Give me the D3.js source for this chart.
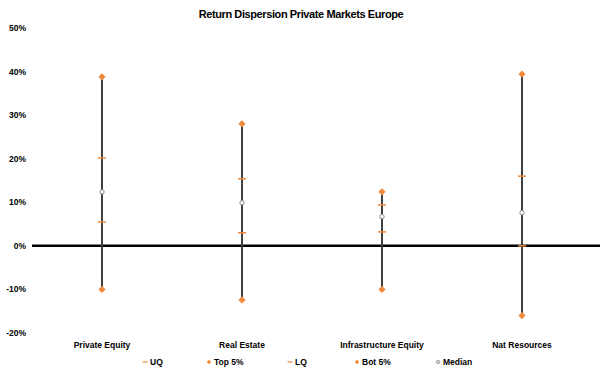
<!DOCTYPE html>
<html lang="en">
<head>
<meta charset="UTF-8">
<title>Return Dispersion Private Markets Europe</title>
<style>
    body { margin: 0; padding: 0; overflow: hidden; background: #fff; }
    svg { display: block; font-family: "Liberation Sans", Arial, sans-serif; }
</style>
</head>
<body>
<script src="https://d3js.org/d3.v7.min.js"></script>
<script>
    const categories = ['Private Equity', 'Real Estate', 'Infrastructure Equity', 'Nat Resources'];
    const top5 = [38.8, 28.0, 12.4, 39.4];
    const uq = [20.2, 15.4, 9.4, 16.0];
    const median = [12.4, 9.9, 6.7, 7.6];
    const lq = [5.5, 3.0, 3.2, 0.0];
    const bot5 = [-10.0, -12.4, -10.0, -16.0];
    const yTicks = [-20, -10, 0, 10, 20, 30, 40, 50];

    const width = 602, height = 373;
    const orange = '#f0893a';

    const svg = d3.select('body').append('svg')
        .attr('width', width)
        .attr('height', height);

    const x = d3.scaleBand().domain(categories).range([32, 592]);
    const y = d3.scaleLinear().domain([-20, 50]).range([333, 28]);

    svg.append('text')
        .attr('x', 301).attr('y', 18)
        .attr('text-anchor', 'middle')
        .attr('font-size', 11).attr('font-weight', 'bold')
        .attr('letter-spacing', -0.4)
        .text('Return Dispersion Private Markets Europe');

    // y tick labels
    svg.append('g').selectAll('text')
        .data(yTicks).enter().append('text')
        .attr('x', 26).attr('y', d => y(d) + 3)
        .attr('text-anchor', 'end')
        .attr('font-size', 8.5).attr('font-weight', 'bold')
        .text(d => d + '%');

    // zero line
    svg.append('line')
        .attr('x1', 32).attr('x2', 600)
        .attr('y1', y(0)).attr('y2', y(0))
        .attr('stroke', '#000').attr('stroke-width', 2.5);

    const cx = d => x(d) + x.bandwidth() / 2;

    const g = svg.append('g').selectAll('g')
        .data(categories).enter().append('g');

    g.append('line')
        .attr('x1', cx).attr('x2', cx)
        .attr('y1', (d, i) => y(top5[i])).attr('y2', (d, i) => y(bot5[i]))
        .attr('stroke', '#3f3f3f').attr('stroke-width', 2);

    // square rotated 45deg => even diamond
    const diamond = d3.symbol().type(d3.symbolSquare).size(26);

    [top5, bot5].forEach(arr => {
        g.append('path')
            .attr('d', diamond)
            .attr('transform', (d, i) => `translate(${cx(d)},${y(arr[i])}) rotate(45)`)
            .attr('fill', orange);
    });

    [uq, lq].forEach(arr => {
        g.append('line')
            .attr('x1', d => cx(d) - 4).attr('x2', d => cx(d) + 4)
            .attr('y1', (d, i) => y(arr[i])).attr('y2', (d, i) => y(arr[i]))
            .attr('stroke', orange).attr('stroke-width', 1.5);
    });

    g.append('circle')
        .attr('cx', cx).attr('cy', (d, i) => y(median[i]))
        .attr('r', 2.2)
        .attr('fill', '#fff').attr('stroke', '#8a8a8a').attr('stroke-width', 1);

    // category labels
    svg.append('g').selectAll('text')
        .data(categories).enter().append('text')
        .attr('x', cx).attr('y', 348)
        .attr('text-anchor', 'middle')
        .attr('font-size', 8.5).attr('font-weight', 'bold')
        .text(d => d);

    // legend
    const legend = [
        { label: 'UQ', type: 'dash', x: 145 },
        { label: 'Top 5%', type: 'diamond', x: 209 },
        { label: 'LQ', type: 'dash', x: 290 },
        { label: 'Bot 5%', type: 'diamond', x: 357 },
        { label: 'Median', type: 'circle', x: 438 }
    ];
    const ly = 362;
    const lg = svg.append('g').selectAll('g')
        .data(legend).enter().append('g')
        .attr('transform', d => `translate(${d.x},${ly})`);

    lg.filter(d => d.type === 'dash').append('line')
        .attr('x1', -2.5).attr('x2', 2.5)
        .attr('stroke', orange).attr('stroke-width', 1.2);
    lg.filter(d => d.type === 'diamond').append('path')
        .attr('d', d3.symbol().type(d3.symbolSquare).size(10))
        .attr('transform', 'rotate(45)')
        .attr('fill', orange);
    lg.filter(d => d.type === 'circle').append('circle')
        .attr('r', 1.8)
        .attr('fill', '#ccc').attr('stroke', '#999').attr('stroke-width', 0.8);

    lg.append('text')
        .attr('x', 5).attr('y', 3)
        .attr('font-size', 8.5).attr('font-weight', 'bold')
        .text(d => d.label);
</script>
</body>
</html>
